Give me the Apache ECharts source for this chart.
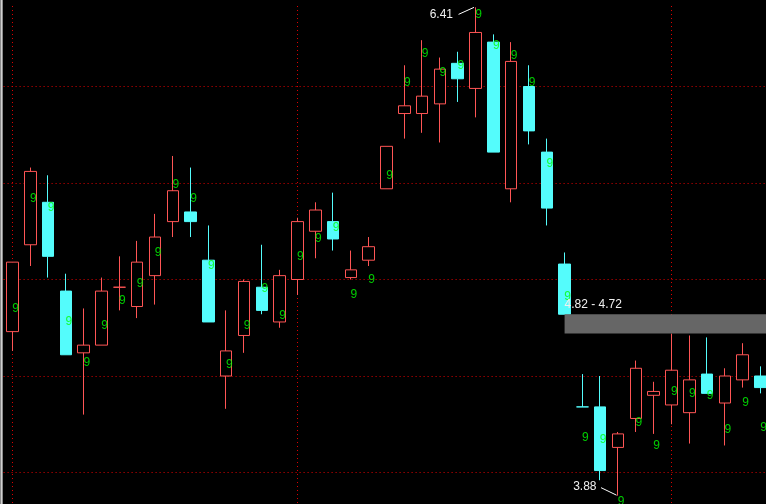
<!DOCTYPE html>
<html><head><meta charset="utf-8">
<script src="https://cdn.jsdelivr.net/npm/echarts@6/dist/echarts.min.js"></script>
<style>html,body{margin:0;padding:0;background:#000;overflow:hidden}#c{width:766px;height:504px;}</style>
</head><body><div id="c"></div>
<script>
// ---- data ----
const opens  = [4.73,5.18,5.40,4.94,4.62,4.66,4.96,4.86,5.02,5.30,5.35,5.10,4.50,4.71,4.96,4.78,5.00,5.25,5.30,5.01,5.10,5.47,5.86,5.86,5.91,6.12,5.99,6.23,5.47,6.00,5.66,5.08,4.34,4.34,4.13,4.28,4.40,4.35,4.31,4.51,4.36,4.48,4.50];
const closes = [5.09,5.56,5.12,4.61,4.66,4.94,4.96,5.09,5.22,5.46,5.30,4.78,4.63,4.99,4.84,5.02,5.30,5.36,5.21,5.05,5.17,5.69,5.90,5.95,6.09,6.04,6.28,5.66,6.13,5.77,5.37,4.82,4.34,4.01,4.20,4.54,4.42,4.53,4.48,4.41,4.50,4.61,4.44];
const highs  = [5.09,5.58,5.54,5.03,4.85,5.01,5.12,5.20,5.34,5.64,5.58,5.28,4.84,5.00,5.18,5.05,5.32,5.40,5.45,5.15,5.22,5.69,6.11,6.24,6.15,6.18,6.41,6.27,6.23,6.11,5.73,5.14,4.51,4.50,4.21,4.58,4.47,4.72,4.71,4.70,4.54,4.67,4.55];
const lows   = [4.63,5.07,5.01,4.61,4.30,4.66,4.84,4.80,4.87,5.22,5.22,4.78,4.33,4.62,4.82,4.75,4.92,5.11,5.15,5.00,5.07,5.47,5.73,5.76,5.71,5.92,5.84,5.66,5.40,5.70,5.28,4.82,4.34,3.96,3.88,4.21,4.20,4.25,4.15,4.41,4.14,4.44,4.41];
const nineY  = [4.85,5.42,5.37,4.78,4.57,4.76,4.89,4.98,5.14,5.49,5.42,5.07,4.56,4.76,4.95,4.81,5.12,5.21,5.27,4.92,5.00,5.54,6.02,6.17,6.07,6.11,6.37,6.21,6.16,6.02,5.60,4.91,4.18,4.17,3.85,4.26,4.14,4.42,4.41,4.40,4.22,4.36,4.23];
const nineText = '9';
const dividerIdx = [0, 16, 37];
const gapRange = [4.82, 4.72];
const gapStartIdx = 31;
const yMin = 3.5, yMax = 6.5, yStep = 0.5;
const categories = opens.map((_, i) => 'K' + (i + 1));

const RED = '#ff5555', CYAN = '#54fcfc', GRID = '#e00000', GREEN = '#00ff00';
const FONT = '"Liberation Sans", Arial, sans-serif';

const kData = opens.map((o, i) => [o, closes[i], lows[i], highs[i]]);
const nineData = nineY.map((v, i) => [i, v]);

const chart = echarts.init(document.getElementById('c'), null, {renderer: 'canvas'});
chart.setOption({
  backgroundColor: '#000',
  animation: false,
  grid: {left: 3.6, top: -10, width: 765.8, height: 579, containLabel: false, outerBoundsMode: 'none'},
  xAxis: {
    type: 'category', data: categories, boundaryGap: true,
    axisLine: {show: false}, axisTick: {show: false}, axisLabel: {show: false}, splitLine: {show: false}
  },
  yAxis: {
    type: 'value', min: yMin, max: yMax, interval: yStep,
    axisLine: {show: false}, axisTick: {show: false}, axisLabel: {show: false},
    splitLine: {show: true, lineStyle: {color: GRID, width: 1, type: [1, 3]}}
  },
  series: [
    {
      type: 'candlestick', data: kData, barWidth: 12,
      itemStyle: {color: '#000', color0: CYAN, borderColor: RED, borderColor0: CYAN, borderWidth: 1},
      markLine: {
        silent: true, symbol: ['none', 'none'], z: 1,
        label: {show: false},
        lineStyle: {color: GRID, width: 1, type: [1, 3]},
        data: dividerIdx.map(i => [{coord: [i, 6.417]}, {coord: [i, yMin]}])
      }
    },
    {
      type: 'scatter', data: nineData, symbolSize: 1, z: 5,
      itemStyle: {color: 'rgba(0,0,0,0)'},
      label: {show: true, formatter: nineText, position: 'inside', offset: [3, 0],
        color: GREEN, fontSize: 12, fontFamily: FONT}
    }
  ]
});

const px = (i, v) => chart.convertToPixel({gridIndex: 0}, [i, v]);
const hiIdx = highs.indexOf(Math.max(...highs));
const loIdx = lows.indexOf(Math.min(...lows));
const hp = px(hiIdx, highs[hiIdx]);
const lp = px(loIdx, lows[loIdx]);
const b1 = px(gapStartIdx, gapRange[0]);
const b2 = px(gapStartIdx, gapRange[1]);
const W = chart.getWidth();

const txt = (t, x, y, align, va) => ({
  type: 'text', z: 100,
  style: {text: t, x, y, fill: '#f0f0f0', font: '12px ' + FONT,
    textAlign: align, textVerticalAlign: va, align: align, verticalAlign: va}
});
const ln = (x1, y1, x2, y2) => ({
  type: 'line', z: 100, shape: {x1, y1, x2, y2}, style: {stroke: '#ffffff', lineWidth: 1}
});

chart.setOption({
  graphic: [
    {type: 'rect', z: 100, shape: {x: 0, y: 0, width: 3, height: 504}, style: {fill: '#8a8a8a'}},
    {type: 'rect', z: 100, shape: {x: 1, y: 0, width: 1, height: 504}, style: {fill: '#d0d0d0'}},
    {type: 'rect', z: 50, shape: {x: b1[0], y: b1[1], width: W - b1[0], height: b2[1] - b1[1]}, style: {fill: '#666666'}},
    txt(gapRange[0].toFixed(2) + ' - ' + gapRange[1].toFixed(2), b1[0], b1[1] - 4, 'left', 'bottom'),
    txt(highs[hiIdx].toFixed(2), hp[0] - 22.5, hp[1] + 7.6, 'right', 'middle'),
    ln(hp[0] - 1.5, hp[1], hp[0] - 17, hp[1] + 7),
    txt(lows[loIdx].toFixed(2), lp[0] - 21.5, lp[1] - 8.7, 'right', 'middle'),
    ln(lp[0] - 1.5, lp[1] - 0.5, lp[0] - 17, lp[1] - 8)
  ]
});
</script>
</body></html>
